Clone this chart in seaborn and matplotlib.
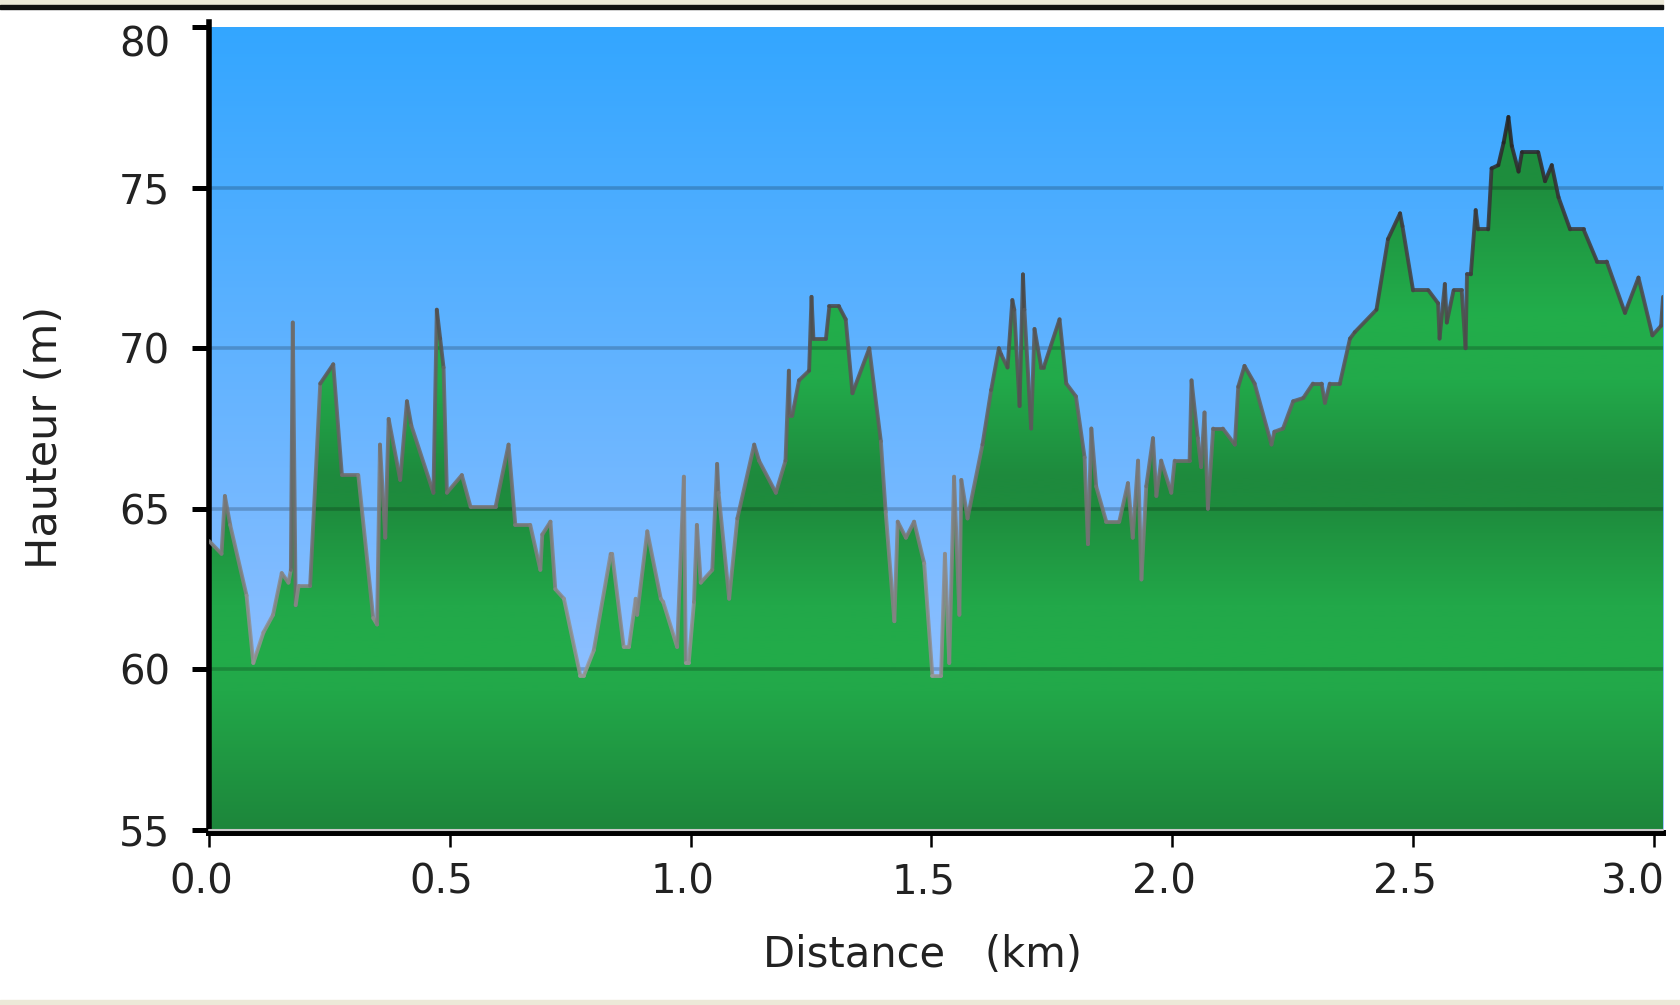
import numpy as np
import matplotlib
matplotlib.use("Agg")
import matplotlib.pyplot as plt
import matplotlib.transforms as mtransforms
from matplotlib.collections import LineCollection
from matplotlib.patches import Polygon, Rectangle
import seaborn as sns

# Profil altimétrique (distance en km, hauteur en m)
distance_km = [
    0.000, 0.026, 0.033, 0.044, 0.078, 0.092, 0.113, 0.133, 0.151, 0.165,
    0.170, 0.174, 0.180, 0.186, 0.210, 0.231, 0.258, 0.276, 0.310, 0.341,
    0.349, 0.355, 0.366, 0.373, 0.397, 0.411, 0.420, 0.466, 0.473, 0.480,
    0.487, 0.494, 0.525, 0.543, 0.595, 0.622, 0.636, 0.667, 0.688, 0.692,
    0.709, 0.719, 0.737, 0.771, 0.778, 0.799, 0.834, 0.837, 0.861, 0.872,
    0.886, 0.889, 0.910, 0.938, 0.943, 0.972, 0.986, 0.990, 0.996, 1.007,
    1.013, 1.021, 1.045, 1.055, 1.058, 1.080, 1.097, 1.132, 1.142, 1.177,
    1.197, 1.204, 1.206, 1.211, 1.225, 1.246, 1.251, 1.255, 1.281, 1.288,
    1.308, 1.322, 1.336, 1.371, 1.395, 1.405, 1.423, 1.430, 1.447, 1.464,
    1.485, 1.502, 1.520, 1.528, 1.537, 1.547, 1.558, 1.562, 1.575, 1.606,
    1.624, 1.640, 1.645, 1.658, 1.668, 1.672, 1.683, 1.690, 1.693, 1.707,
    1.714, 1.728, 1.733, 1.766, 1.780, 1.800, 1.818, 1.825, 1.832, 1.842,
    1.863, 1.890, 1.908, 1.918, 1.929, 1.936, 1.946, 1.960, 1.967, 1.977,
    1.998, 2.005, 2.036, 2.040, 2.053, 2.060, 2.067, 2.074, 2.085, 2.105,
    2.130, 2.137, 2.150, 2.171, 2.206, 2.212, 2.230, 2.251, 2.272, 2.292,
    2.310, 2.317, 2.327, 2.348, 2.369, 2.379, 2.424, 2.448, 2.473, 2.478,
    2.500, 2.532, 2.552, 2.555, 2.566, 2.570, 2.584, 2.601, 2.609, 2.612,
    2.620, 2.630, 2.635, 2.656, 2.663, 2.677, 2.688, 2.698, 2.705, 2.719,
    2.726, 2.760, 2.774, 2.788, 2.802, 2.826, 2.854, 2.882, 2.902, 2.940,
    2.968, 2.997, 3.015, 3.019,
]
elevation_m = [
    64.0, 63.6, 65.4, 64.5, 62.3, 60.2, 61.15, 61.7, 63.0, 62.7,
    63.1, 70.8, 62.0, 62.6, 62.6, 68.9, 69.5, 66.05, 66.05, 61.6,
    61.4, 67.0, 64.1, 67.8, 65.9, 68.35, 67.6, 65.5, 71.2, 70.3,
    69.4, 65.5, 66.05, 65.06, 65.06, 67.0, 64.5, 64.5, 63.1, 64.2,
    64.6, 62.5, 62.2, 59.8, 59.8, 60.6, 63.6, 63.6, 60.7, 60.7,
    62.2, 61.7, 64.3, 62.2, 62.1, 60.7, 66.0, 60.2, 60.2, 62.1,
    64.5, 62.7, 63.1, 66.4, 65.5, 62.2, 64.7, 67.0, 66.5, 65.5,
    66.5, 69.3, 67.9, 67.9, 69.0, 69.3, 71.6, 70.3, 70.3, 71.3,
    71.3, 70.9, 68.6, 70.0, 67.1, 64.9, 61.5, 64.6, 64.1, 64.6,
    63.3, 59.8, 59.8, 63.6, 60.2, 66.0, 61.7, 65.9, 64.7, 67.0,
    68.7, 70.0, 69.8, 69.4, 71.5, 71.2, 68.2, 72.3, 71.2, 67.5,
    70.6, 69.4, 69.4, 70.9, 68.9, 68.5, 66.6, 63.9, 67.5, 65.7,
    64.6, 64.6, 65.8, 64.1, 66.5, 62.8, 65.7, 67.2, 65.4, 66.5,
    65.5, 66.5, 66.5, 69.0, 67.2, 66.3, 68.0, 65.0, 67.5, 67.5,
    67.0, 68.8, 69.45, 68.9, 67.0, 67.4, 67.5, 68.35, 68.45, 68.9,
    68.9, 68.3, 68.9, 68.9, 70.3, 70.5, 71.2, 73.4, 74.2, 73.8,
    71.8, 71.8, 71.4, 70.3, 72.0, 70.8, 71.8, 71.8, 70.0, 72.3,
    72.3, 74.3, 73.7, 73.7, 75.6, 75.7, 76.4, 77.2, 76.3, 75.5,
    76.1, 76.1, 75.2, 75.7, 74.7, 73.7, 73.7, 72.7, 72.7, 71.1,
    72.2, 70.4, 70.7, 71.6,
]

y_ticks = [55, 60, 65, 70, 75, 80]
x_ticks = [0.0, 0.5, 1.0, 1.5, 2.0, 2.5, 3.0]
x_max = 3.019

sns.set_theme(style="white")
plt.rcParams["font.family"] = ["DejaVu Sans"]

fig = plt.figure(figsize=(16.8, 10.05), dpi=100)
fig.patch.set_facecolor("white")
ax = fig.add_axes([0.1244, 0.1741, 0.8655, 0.7990])
ax.set_xlim(0, x_max)
ax.set_ylim(55, 80)
ax.set_facecolor("white")

# fond bleu dégradé
t = np.linspace(0, 1, 256)[:, None, None]
sky_bot = np.array([162, 197, 255]) / 255
sky_top = np.array([51, 166, 255]) / 255
sky = sky_bot + (sky_top - sky_bot) * t
ax.imshow(sky, extent=[0, x_max, 55, 80], origin="lower", aspect="auto",
          interpolation="bilinear", zorder=0)

# remplissage vert dégradé, découpé sous la courbe
lv = np.linspace(55, 80, 512)
nodes = [55, 59.3, 60.5, 62, 65, 66, 69, 71, 75, 80]
cols = np.array([
    (29, 134, 59), (34, 168, 73), (34, 172, 74), (34, 168, 73), (30, 140, 61),
    (30, 138, 61), (34, 170, 74), (34, 174, 75), (30, 142, 62), (30, 140, 61),
]) / 255
green = np.stack([np.interp(lv, nodes, cols[:, k]) for k in range(3)], axis=-1)[:, None, :]
verts = [(distance_km[0], 55)] + list(zip(distance_km, elevation_m)) + [(distance_km[-1], 55)]
area = Polygon(verts, closed=True, facecolor="none", edgecolor="none", transform=ax.transData)
ax.add_patch(area)
img = ax.imshow(green, extent=[0, x_max, 55, 80], origin="lower", aspect="auto",
                interpolation="bilinear", zorder=1)
img.set_clip_path(area)

# lignes de grille
for lvl in y_ticks[1:-1]:
    ax.axhline(lvl, color="black", alpha=0.2, lw=2.6, zorder=2)
ax.axhline(55, color="#c9c9c9", lw=1.5, zorder=2.6, clip_on=False)

# contour du profil
sns.lineplot(x=distance_km, y=elevation_m, ax=ax, color="#6b6b6b", lw=1.0,
             estimator=None, sort=False, zorder=3)
pts = np.column_stack([distance_km, elevation_m])
segs = np.stack([pts[:-1], pts[1:]], axis=1)
mid = (pts[:-1, 1] + pts[1:, 1]) / 2
gray = np.clip(0.6 - (mid - 60) * 0.027, 0.12, 0.62)
lc = LineCollection(segs, colors=[(g, g, g, 0.85) for g in gray], linewidths=2.8,
                    zorder=4, capstyle="round", joinstyle="round")
ax.add_collection(lc)

# axes
for side in ("top", "right"):
    ax.spines[side].set_visible(False)
ax.spines["left"].set_color("black")
ax.spines["left"].set_linewidth(4.0)
ax.spines["left"].set_bounds(55, 80.15)
ax.spines["bottom"].set_color("black")
ax.spines["bottom"].set_linewidth(4.3)
ax.spines["bottom"].set_position(("outward", 2.2))

ax.set_yticks(y_ticks)
ax.set_yticklabels([str(v) for v in y_ticks])
ax.set_xticks(x_ticks)
ax.set_xticklabels([f"{v:.1f}" for v in x_ticks])
ax.tick_params(axis="y", left=True, direction="out", length=12, width=3.6,
               color="black", pad=16, labelsize=29, labelcolor="#222222")
ax.tick_params(axis="x", bottom=True, direction="out", length=10, width=1.8,
               color="black", pad=11, labelsize=29, labelcolor="#222222")

for i, lab in enumerate(ax.get_xticklabels()):
    dx = -8 if i < len(x_ticks) - 1 else -21
    lab.set_transform(lab.get_transform() + mtransforms.ScaledTranslation(dx / 100, 0, fig.dpi_scale_trans))
top_lab = ax.get_yticklabels()[-1]
top_lab.set_transform(top_lab.get_transform() + mtransforms.ScaledTranslation(0, -14 / 100, fig.dpi_scale_trans))

ax.set_xlabel("Distance   (km)", fontsize=30, color="#222222", va="center")
ax.xaxis.set_label_coords(0.491, -0.1557)
ax.set_ylabel("Hauteur (m)", fontsize=31, color="#222222", va="center")
ax.yaxis.set_label_coords(-0.1128, 0.489)

# cadre de capture (bandes beiges)
fig.patches.append(Rectangle((0, 1 - 5 / 1005), 1663 / 1680, 5 / 1005,
                             transform=fig.transFigure, color="#ECE9D8", zorder=0))
fig.patches.append(Rectangle((0, 1 - 9.3 / 1005), 1663 / 1680, 4.3 / 1005,
                             transform=fig.transFigure, color="#111111", zorder=0))
fig.patches.append(Rectangle((0, 0), 1, 5.5 / 1005,
                             transform=fig.transFigure, color="#ECE9D8", zorder=0))

fig.savefig("out.png", dpi=100)
